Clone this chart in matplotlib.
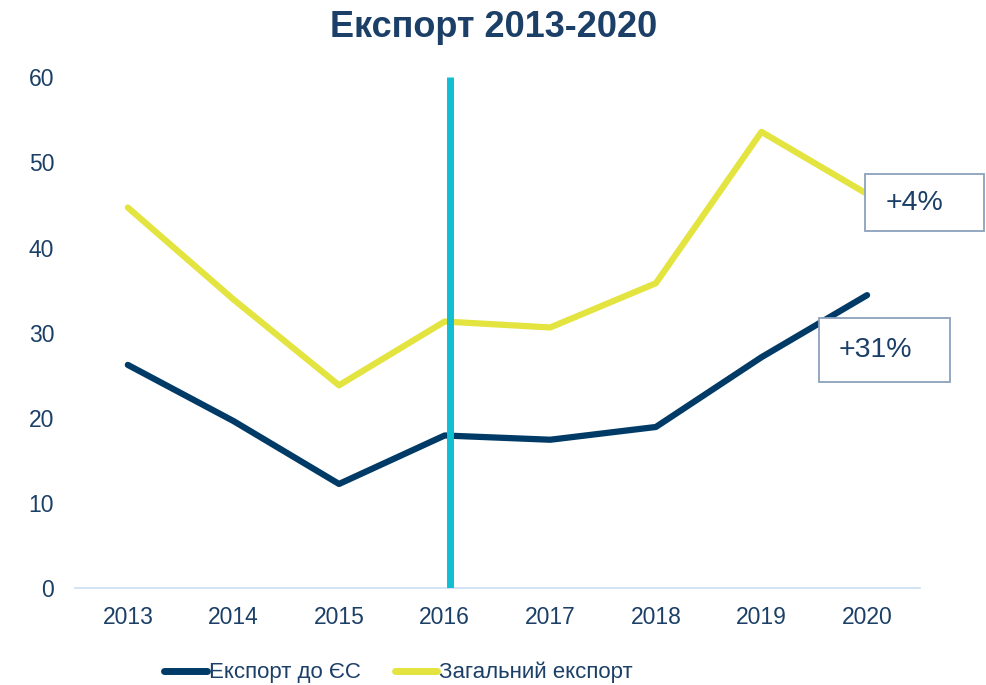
import matplotlib
matplotlib.use('Agg')
import matplotlib.pyplot as plt
from matplotlib.patches import Rectangle

plt.rcParams['font.family'] = ['Liberation Sans', 'DejaVu Sans']

years = ['2013', '2014', '2015', '2016', '2017', '2018', '2019', '2020']
export_eu = [26.2, 19.6, 12.2, 17.9, 17.4, 18.9, 27.1, 34.4]
export_total = [44.7, 33.9, 23.8, 31.3, 30.6, 35.8, 53.6, 46.3]
labels = ['Експорт до ЄС', 'Загальний експорт']
growth = ['+31%', '+4%']

navy = '#003A66'
yellow = '#E3E43F'
cyan = '#12BED2'
text_c = '#1B3F66'
box_ec = '#8BA3BD'

fig = plt.figure(figsize=(9.87, 6.85), dpi=100)
ax = fig.add_axes([0.076, 0.142, 0.856, 0.745])

x = list(range(len(years)))
ax.plot(x, export_eu, color=navy, lw=4.5, solid_capstyle='round', label=labels[0])
ax.plot(x, export_total, color=yellow, lw=4.5, solid_capstyle='round', label=labels[1])
ax.vlines(3.05, -0.6, 60, color=cyan, lw=5, zorder=5)

ax.set_xlim(-0.5, 7.5)
ax.set_ylim(0, 60)
ax.set_yticks(range(0, 61, 10))
ax.set_xticks(x)
ax.set_xticklabels(years)
for s in ['top', 'right', 'left']:
    ax.spines[s].set_visible(False)
ax.spines['bottom'].set_color('#C9DFF3')
ax.spines['bottom'].set_linewidth(1.2)
ax.tick_params(axis='both', length=0, labelsize=16.5, colors=text_c)
ax.tick_params(axis='y', pad=15)
ax.tick_params(axis='x', pad=13)

# annotation boxes (figure coords)
for (bx, by, bw, bh), txt, tx, ty in [
        ((0.8298, 0.4423, 0.1327, 0.0934), growth[0], 0.850, 0.489),
        ((0.8764, 0.6628, 0.1206, 0.0832), growth[1], 0.897, 0.703)]:
    fig.add_artist(Rectangle((bx, by), bw, bh, transform=fig.transFigure,
                             fc='white', ec=box_ec, lw=1.3, zorder=6))
    fig.text(tx, ty, txt, fontsize=20.5, color=text_c, ha='left', va='center', zorder=7)

fig.suptitle('Експорт 2013-2020', fontsize=26, fontweight='bold', color=text_c, y=0.986)

leg = fig.legend(loc='lower center', bbox_to_anchor=(0.404, -0.027), ncol=2, frameon=False,
                 fontsize=16, handlelength=1.9, handletextpad=0.12, columnspacing=1.5)
for t in leg.get_texts():
    t.set_color(text_c)
for h in leg.get_lines():
    h.set_linewidth(5)

fig.savefig('out.png', dpi=100, facecolor='white')
